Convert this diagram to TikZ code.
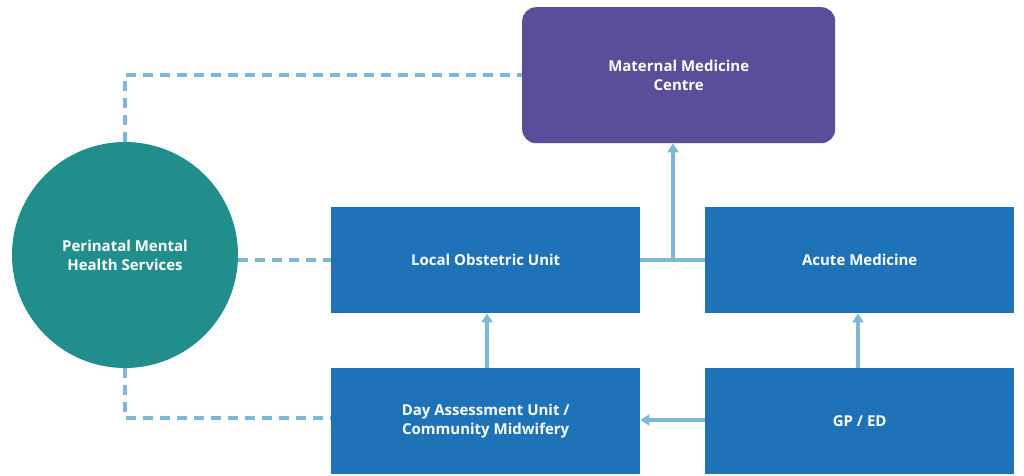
\documentclass[tikz,border=0pt]{standalone}
\usepackage{fontspec}
\setmainfont{Open Sans}
\usetikzlibrary{arrows.meta}
\definecolor{purp}{HTML}{584E9A}
\definecolor{tealc}{HTML}{218E8B}
\definecolor{blu}{HTML}{1D72B8}
\definecolor{lblue}{HTML}{7DB9D6}
\begin{document}
\begin{tikzpicture}[x=1pt,y=-1pt,
 box/.style={fill=blu,minimum width=309pt,minimum height=106pt,text=white,font=\bfseries\fontsize{15}{19}\selectfont,align=center,inner sep=0pt},
 conn/.style={lblue,line width=3.5pt},
 dsh/.style={conn,dash pattern=on 10pt off 7pt},
 arr/.style={conn,-{Triangle[length=9pt,width=11pt]}}]
\useasboundingbox (0,0) rectangle (1024,475);
\node[box,fill=purp,rounded corners=14pt,minimum width=313pt,minimum height=136pt,anchor=north west] (mmc) at (522,7) {Maternal Medicine\\Centre};
\node[circle,fill=tealc,minimum size=226pt,text=white,font=\bfseries\fontsize{15}{19}\selectfont,align=center,inner sep=0pt] (pmh) at (125,255) {Perinatal Mental\\Health Services};
\node[box,anchor=north west] (lou) at (331,207) {Local Obstetric Unit};
\node[box,anchor=north west] (acm) at (705,207) {Acute Medicine};
\node[box,anchor=north west] (dau) at (331,368) {Day Assessment Unit /\\Community Midwifery};
\node[box,anchor=north west] (gp) at (705,368) {GP / ED};
\coordinate (j) at (673,260);
\draw[dsh] (pmh.north) -- (125,75) -- (mmc.west |- 0,75);
\draw[dsh] (pmh.east |- 0,260) -- (lou.west |- 0,260);
\draw[dsh] (pmh.south) -- (125,418) -- (dau.west |- 0,418);
\draw[conn] (lou.east |- 0,260) -- (acm.west |- 0,260);
\draw[arr] (j) -- (j |- mmc.south);
\draw[arr] (dau.north -| 487,0) -- (lou.south -| 487,0);
\draw[arr] (gp.north -| 858,0) -- (acm.south -| 858,0);
\draw[arr] (gp.west |- 0,420) -- (dau.east |- 0,420);
\end{tikzpicture}
\end{document}
